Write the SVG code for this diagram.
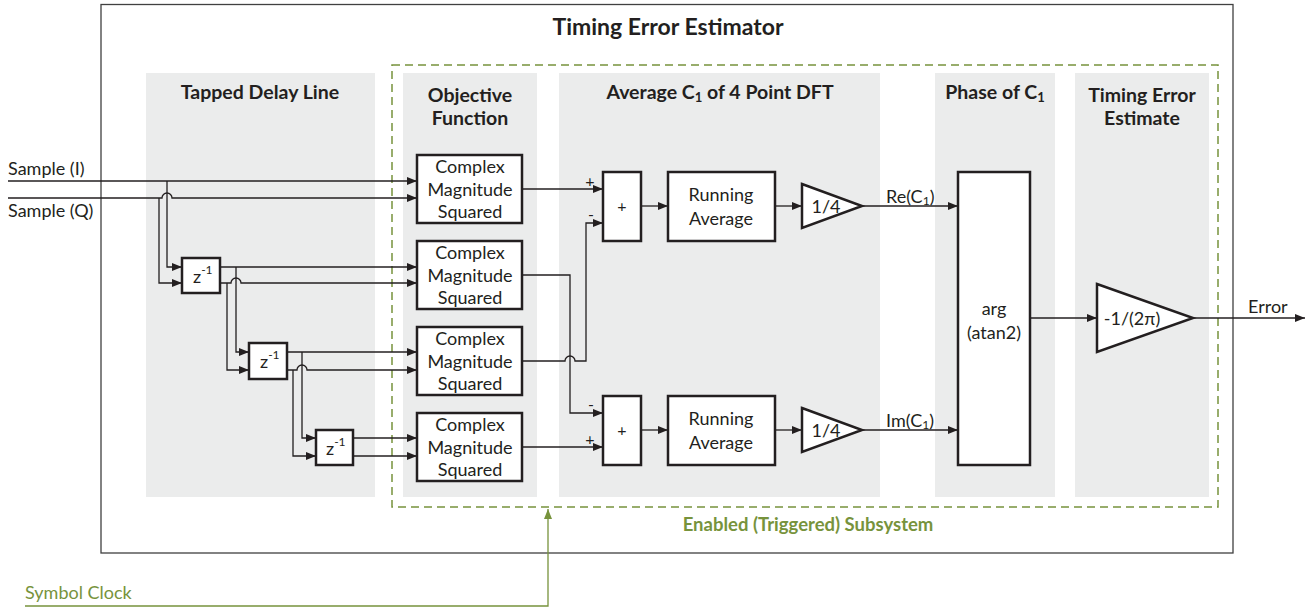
<svg xmlns="http://www.w3.org/2000/svg" width="1310" height="609" viewBox="0 0 1310 609">
  <style>
    text { font-family: Lato, "Liberation Sans", sans-serif; fill: #231F20; }
    .lbl { font-size: 18px; }
    .sm { font-size: 16px; }
    .hdr { font-size: 19.5px; font-weight: bold; text-anchor: middle; }
    .mid { text-anchor: middle; }
    .panel { fill: #EBECEC; stroke: none; }
    .blk { fill: #FFFFFF; stroke: #231F20; stroke-width: 2.5; }
    .wire { fill: none; stroke: #231F20; stroke-width: 1.3; }
    .wire-a { fill: none; stroke: #231F20; stroke-width: 1.3; marker-end: url(#arr); }
    .green { fill: #77933C; }
  </style>
  <defs>
    <marker id="arr" viewBox="0 0 10 8" refX="10" refY="4" markerWidth="10" markerHeight="8" markerUnits="userSpaceOnUse" orient="auto">
      <path d="M0,0 L10,4 L0,8 Z" fill="#231F20"/>
    </marker>
    <marker id="arr-g" viewBox="0 0 10 8" refX="10" refY="4" markerWidth="10" markerHeight="8" markerUnits="userSpaceOnUse" orient="auto">
      <path d="M0,0 L10,4 L0,8 Z" fill="#77933C"/>
    </marker>
  </defs>

  <rect x="0" y="0" width="1310" height="609" fill="#FFFFFF"/>

  <!-- outer subsystem frame -->
  <g id="estimator">
    <rect x="101" y="4.5" width="1132" height="548.5" fill="none" stroke="#404040" stroke-width="1.3"/>
    <text x="668" y="35" class="mid" style="font-size:23px;font-weight:bold">Timing Error Estimator</text>
  </g>

  <!-- stage panels -->
  <g id="panels">
    <rect class="panel" x="146" y="73" width="229" height="424"/>
    <rect class="panel" x="403" y="73" width="134" height="424"/>
    <rect class="panel" x="559" y="73" width="321" height="424"/>
    <rect class="panel" x="935" y="73" width="120" height="424"/>
    <rect class="panel" x="1075" y="73" width="134" height="424"/>
    <text x="260" y="99" class="hdr">Tapped Delay Line</text>
    <text x="470" y="102" class="hdr">Objective</text>
    <text x="470" y="125" class="hdr">Function</text>
    <text x="720" y="99" class="hdr">Average C<tspan style="font-size:13px" dy="3">1</tspan><tspan dy="-3"> of 4 Point DFT</tspan></text>
    <text x="995" y="99" class="hdr">Phase of C<tspan style="font-size:13px" dy="3">1</tspan></text>
    <text x="1142" y="102" class="hdr">Timing Error</text>
    <text x="1142" y="125" class="hdr">Estimate</text>
  </g>

  <!-- enabled subsystem boundary -->
  <g id="enabled-subsystem">
    <rect x="392" y="65" width="826" height="442" fill="none" stroke="#77933C" stroke-width="1.5" stroke-dasharray="8,5"/>
    <text x="808" y="531" class="mid green" style="font-size:18.5px;font-weight:bold">Enabled (Triggered) Subsystem</text>
  </g>

  <!-- connectors -->
  <g id="connectors">
    <!-- inputs -->
    <path class="wire-a" d="M8,181 H417"/>
    <path class="wire-a" d="M8,198 H162 a5,5 0 0 1 10,0 H417"/>
    <path class="wire-a" d="M167,181 V267 H182"/>
    <path class="wire-a" d="M159,198 V283 H182"/>
    <!-- delay 1 outputs -->
    <path class="wire-a" d="M220,267 H417"/>
    <path class="wire-a" d="M220,283 H231 a5,5 0 0 1 10,0 H417"/>
    <path class="wire-a" d="M236,267 V352 H249"/>
    <path class="wire-a" d="M227,283 V370 H249"/>
    <!-- delay 2 outputs -->
    <path class="wire-a" d="M287,352 H417"/>
    <path class="wire-a" d="M287,370 H297 a5,5 0 0 1 10,0 H417"/>
    <path class="wire-a" d="M302,352 V438 H316"/>
    <path class="wire-a" d="M293,370 V456 H316"/>
    <!-- delay 3 outputs -->
    <path class="wire-a" d="M353,438 H417"/>
    <path class="wire-a" d="M353,456 H417"/>
    <!-- magnitude outputs to adders -->
    <path class="wire-a" d="M522,189 H603"/>
    <path class="wire-a" d="M522,275 H570 V413 H603"/>
    <path class="wire-a" d="M522,361 H565 a5,5 0 0 1 10,0 H586 V223 H603"/>
    <path class="wire-a" d="M522,447 H603"/>
    <!-- adders to running averages -->
    <path class="wire-a" d="M641,206 H668"/>
    <path class="wire-a" d="M641,430 H668"/>
    <path class="wire-a" d="M775,206 H802"/>
    <path class="wire-a" d="M775,430 H802"/>
    <!-- gains to arg -->
    <path class="wire-a" d="M862,206 H958"/>
    <path class="wire-a" d="M862,430 H958"/>
    <!-- arg to scale, scale to output -->
    <path class="wire-a" d="M1030,318 H1097"/>
    <path class="wire-a" d="M1193,318 H1305"/>
    <!-- symbol clock enable -->
    <path d="M25,606 H548 V509" fill="none" stroke="#77933C" stroke-width="1.3" marker-end="url(#arr-g)"/>
    <!-- sign marks -->
    <text x="590" y="187" class="sm mid">+</text>
    <text x="591" y="220" class="sm mid">-</text>
    <text x="591" y="410" class="sm mid">-</text>
    <text x="590" y="445" class="sm mid">+</text>
    <!-- signal labels -->
    <text x="8" y="175" class="lbl">Sample (I)</text>
    <text x="8" y="217" class="lbl">Sample (Q)</text>
    <text x="886" y="203" class="lbl">Re(C<tspan style="font-size:12px" dy="2">1</tspan><tspan dy="-2">)</tspan></text>
    <text x="886" y="427" class="lbl">Im(C<tspan style="font-size:12px" dy="2">1</tspan><tspan dy="-2">)</tspan></text>
    <text x="1248" y="313" class="lbl">Error</text>
    <text x="25" y="599" class="lbl green">Symbol Clock</text>
  </g>

  <!-- delay elements -->
  <g id="delay1">
    <rect class="blk" x="182" y="258" width="38" height="35"/>
    <text x="193" y="283" class="lbl">z<tspan style="font-size:12px" dy="-9">-1</tspan></text>
  </g>
  <g id="delay2">
    <rect class="blk" x="249" y="343" width="38" height="36"/>
    <text x="260" y="368" class="lbl">z<tspan style="font-size:12px" dy="-9">-1</tspan></text>
  </g>
  <g id="delay3">
    <rect class="blk" x="316" y="430" width="37" height="35"/>
    <text x="326" y="455" class="lbl">z<tspan style="font-size:12px" dy="-9">-1</tspan></text>
  </g>

  <!-- complex magnitude squared blocks -->
  <g id="cms1">
    <rect class="blk" x="417" y="155" width="105" height="68"/>
    <text x="470" y="173" class="lbl mid">Complex</text>
    <text x="470" y="196" class="lbl mid">Magnitude</text>
    <text x="470" y="218" class="lbl mid">Squared</text>
  </g>
  <g id="cms2">
    <rect class="blk" x="417" y="241" width="105" height="68"/>
    <text x="470" y="259" class="lbl mid">Complex</text>
    <text x="470" y="282" class="lbl mid">Magnitude</text>
    <text x="470" y="304" class="lbl mid">Squared</text>
  </g>
  <g id="cms3">
    <rect class="blk" x="417" y="327" width="105" height="68"/>
    <text x="470" y="345" class="lbl mid">Complex</text>
    <text x="470" y="368" class="lbl mid">Magnitude</text>
    <text x="470" y="390" class="lbl mid">Squared</text>
  </g>
  <g id="cms4">
    <rect class="blk" x="417" y="413" width="105" height="68"/>
    <text x="470" y="431" class="lbl mid">Complex</text>
    <text x="470" y="454" class="lbl mid">Magnitude</text>
    <text x="470" y="476" class="lbl mid">Squared</text>
  </g>

  <!-- adders -->
  <g id="sum-re">
    <rect class="blk" x="603" y="172" width="38" height="69"/>
    <text x="622" y="212" class="sm mid">+</text>
  </g>
  <g id="sum-im">
    <rect class="blk" x="603" y="396" width="38" height="69"/>
    <text x="622" y="436" class="sm mid">+</text>
  </g>

  <!-- running averages -->
  <g id="avg-re">
    <rect class="blk" x="668" y="172" width="107" height="69"/>
    <text x="721" y="201" class="lbl mid">Running</text>
    <text x="721" y="225" class="lbl mid">Average</text>
  </g>
  <g id="avg-im">
    <rect class="blk" x="668" y="396" width="107" height="69"/>
    <text x="721" y="425" class="lbl mid">Running</text>
    <text x="721" y="449" class="lbl mid">Average</text>
  </g>

  <!-- quarter gains -->
  <g id="gain-re">
    <path class="blk" d="M802,184 L862,206 L802,228 Z"/>
    <text x="826" y="213" class="lbl mid">1/4</text>
  </g>
  <g id="gain-im">
    <path class="blk" d="M802,408 L862,430 L802,452 Z"/>
    <text x="826" y="437" class="lbl mid">1/4</text>
  </g>

  <!-- phase -->
  <g id="arg">
    <rect class="blk" x="958" y="172" width="72" height="293"/>
    <text x="994" y="315" class="lbl mid">arg</text>
    <text x="994" y="339" class="lbl mid">(atan2)</text>
  </g>

  <!-- scale to cycles -->
  <g id="scale">
    <path class="blk" d="M1097,284 L1193,318 L1097,352 Z"/>
    <text x="1132" y="325" class="lbl mid">-1/(2π)</text>
  </g>
</svg>
